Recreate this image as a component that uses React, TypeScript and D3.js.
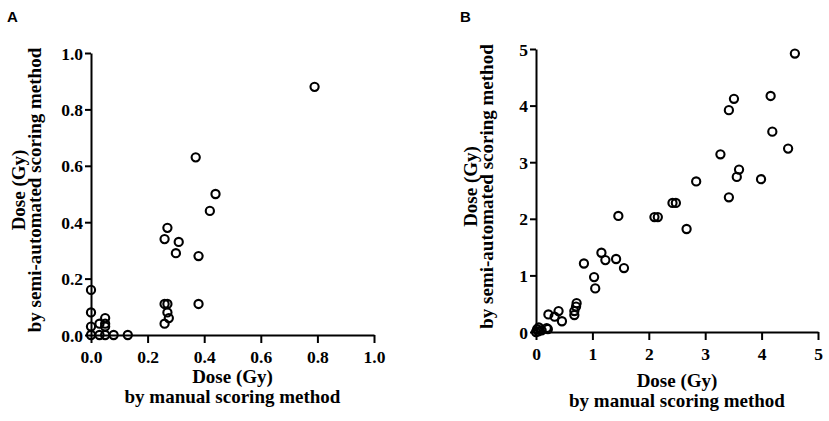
import React, { useEffect, useRef } from "react";
import * as d3 from "d3";

// panel A: low-dose range (Gy)
const manualA = [0.79, 0.37, 0.44, 0.42, 0.27, 0.26, 0.31, 0.3, 0.38, 0.38, 0.26, 0.27, 0.27, 0.275, 0.26,
  0, 0, 0, 0, 0.03, 0.05, 0.05, 0.05, 0.03, 0.05, 0.08, 0.13];
const semiA = [0.88, 0.63, 0.5, 0.44, 0.38, 0.34, 0.33, 0.29, 0.28, 0.11, 0.11, 0.11, 0.08, 0.06, 0.04,
  0.16, 0.08, 0.03, 0, 0.04, 0.06, 0.04, 0.03, 0, 0, 0, 0];
const ticksA = [0, 0.2, 0.4, 0.6, 0.8, 1.0];

// panel B: full range (Gy)
const manualB = [4.59, 3.51, 3.42, 4.16, 4.19, 4.47, 3.27, 3.6, 3.56, 3.99, 2.84, 3.42, 2.42, 2.48, 2.1, 2.16,
  1.46, 2.67, 1.16, 1.23, 1.42, 1.56, 0.85, 1.03, 1.05, 0.72, 0.71, 0.68, 0.68, 0.4, 0.46, 0.22, 0.33,
  0.19, 0.21, 0, 0.02, 0.05, 0.04, 0.1];
const semiB = [4.92, 4.12, 3.92, 4.17, 3.54, 3.24, 3.14, 2.87, 2.74, 2.7, 2.66, 2.38, 2.28, 2.28, 2.03, 2.03,
  2.05, 1.82, 1.4, 1.27, 1.29, 1.13, 1.21, 0.97, 0.77, 0.51, 0.45, 0.37, 0.3, 0.37, 0.19, 0.31, 0.27,
  0.07, 0.05, 0, 0.05, 0.08, 0.01, 0.03];
const ticksB = [0, 1, 2, 3, 4, 5];

const serif = "'Liberation Serif', 'Times New Roman', serif";

interface PanelProps {
  label: string;
  xs: number[];
  ys: number[];
  ticks: number[];
  fmt: string;
  x0: number; x1: number; y0: number; y1: number;
  yTitleX: number; xTitleY: number;
}

const Panel = ({ label, xs, ys, ticks, fmt, x0, x1, y0, y1, yTitleX, xTitleY }: PanelProps) => {
  const ref = useRef<SVGGElement | null>(null);

  useEffect(() => {
    const g = d3.select(ref.current);
    g.selectAll("*").remove();
    const max = ticks[ticks.length - 1];
    const x = d3.scaleLinear().domain([0, max]).range([x0, x1]);
    const y = d3.scaleLinear().domain([0, max]).range([y0, y1]);
    const f = d3.format(fmt);

    const xa = g.append("g").attr("transform", `translate(0,${y0})`)
      .call(d3.axisBottom(x).tickValues(ticks).tickFormat((d) => f(d as number)).tickSize(8).tickSizeOuter(0));
    const ya = g.append("g").attr("transform", `translate(${x0},0)`)
      .call(d3.axisLeft(y).tickValues(ticks).tickFormat((d) => f(d as number)).tickSize(6).tickSizeOuter(0));
    [xa, ya].forEach((a) => {
      a.selectAll("path, line").attr("stroke", "#000").attr("stroke-width", 2);
      a.selectAll("text").attr("fill", "#000").style("font-family", serif)
        .style("font-weight", "bold").style("font-size", "17.5px");
    });
    xa.selectAll("text").attr("y", 28).attr("dy", null);
    ya.selectAll("text").attr("x", -8).attr("dy", "0.35em");

    g.append("g").selectAll("circle").data(xs).join("circle")
      .attr("cx", (d) => x(d))
      .attr("cy", (_, i) => y(ys[i]))
      .attr("r", 4.1)
      .attr("fill", "none")
      .attr("stroke", "#000")
      .attr("stroke-width", 2.1);

    const cx = (x0 + x1) / 2;
    const title = g.append("g").style("font-family", serif).style("font-weight", "bold")
      .style("font-size", "19px").attr("text-anchor", "middle");
    title.append("text").attr("x", cx).attr("y", xTitleY).text("Dose (Gy)");
    title.append("text").attr("x", cx).attr("y", xTitleY + 20).text("by manual scoring method");
    const cy = (y0 + y1) / 2 - 4;
    title.append("text").attr("transform", `translate(${yTitleX},${cy}) rotate(-90)`).text("Dose (Gy)");
    title.append("text").attr("transform", `translate(${yTitleX + 16},${cy}) rotate(-90)`)
      .text("by semi-automated scoring method");

    g.append("text").attr("x", label === "A" ? 7 : 460).attr("y", 22)
      .style("font-family", "'Liberation Sans', Arial, sans-serif").style("font-weight", "bold")
      .style("font-size", "15px").text(label);
  }, [label, xs, ys, ticks, fmt, x0, x1, y0, y1, yTitleX, xTitleY]);

  return <g ref={ref}></g>;
};

export default function App() {
  return (
    <svg width={829} height={421} style={{ position: "absolute", left: 0, top: 0, background: "#fff" }}>
      <Panel label="A" xs={manualA} ys={semiA} ticks={ticksA} fmt=".1f"
        x0={91} x1={374} y0={335} y1={53} yTitleX={25} xTitleY={383} />
      <Panel label="B" xs={manualB} ys={semiB} ticks={ticksB} fmt="d"
        x0={536} x1={818} y0={332} y1={49} yTitleX={477} xTitleY={387} />
    </svg>
  );
}
